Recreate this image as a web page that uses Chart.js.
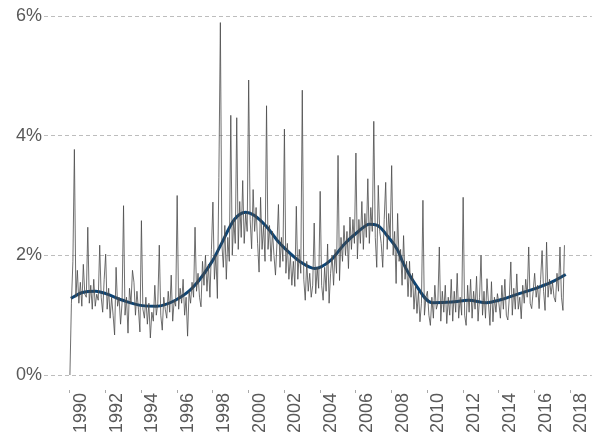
<!DOCTYPE html>
<html>
<head>
<meta charset="utf-8">
<script src="https://cdn.jsdelivr.net/npm/chart.js@4/dist/chart.umd.min.js"></script>
<style>
  body { margin: 0; background: #fff; }
</style>
</head>
<body>
<canvas id="rateChart" width="592" height="435"></canvas>
<script>
// monthly values, one row per year, starting Jan 1990 (last row stops in Sep 2017)
var startYear = 1990;
var monthlyRate = [
  0, 1.2, 1.9, 3.77, 1.3, 1.75, 1.2, 1.55, 1.15, 1.85, 1.35, 1.3,        // 1990
  2.47, 1.2, 1.5, 1.1, 1.6, 1.15, 1.35, 1.25, 2.17, 1.3, 1.05, 1.6,      // 1991
  2.02, 1.1, 1.45, 0.95, 1.3, 1.0, 0.67, 1.8, 1.15, 1.3, 0.85, 1.2,      // 1992
  2.83, 1.0, 1.3, 0.7, 1.45, 1.2, 1.75, 1.55, 1.0, 1.4, 1.1, 0.72,       // 1993
  2.58, 1.1, 0.95, 1.3, 0.85, 1.2, 0.62, 1.05, 0.9, 1.5, 1.0, 1.2,       // 1994
  2.17, 1.0, 0.75, 1.3, 1.1, 0.95, 1.4, 1.05, 1.67, 0.9, 1.25, 1.15,     // 1995
  3.0, 1.1, 1.45, 1.2, 1.6, 1.0, 1.3, 0.65, 1.4, 1.2, 1.55, 1.3,         // 1996
  2.47, 1.4, 1.7, 1.3, 1.14, 1.9, 1.5, 2.0, 1.4, 1.85, 1.3, 2.1,         // 1997
  2.89, 1.6, 2.0, 1.28, 3.3, 5.89, 2.2, 1.8, 2.5, 1.6, 2.3, 1.9,         // 1998
  4.34, 2.0, 2.6, 2.2, 4.3, 2.1, 2.9, 2.3, 3.25, 2.2, 2.7, 2.4,          // 1999
  4.93, 2.6, 2.11, 3.1, 2.4, 2.8, 2.2, 1.72, 2.97, 2.1, 2.5, 1.9,        // 2000
  4.5, 2.1, 2.5, 1.9, 2.4, 2.0, 1.67, 2.2, 2.85, 1.8, 2.3, 1.9,          // 2001
  4.11, 1.7, 2.2, 1.6, 2.0, 1.5, 1.9, 1.48, 2.82, 1.6, 2.1, 1.7,         // 2002
  4.76, 1.6, 1.25, 1.9, 1.4, 1.7, 1.3, 1.5, 2.54, 1.36, 1.8, 1.45,       // 2003
  3.07, 1.5, 1.25, 1.8, 1.4, 2.19, 1.2, 1.7, 2.0, 1.5, 2.1, 1.7,         // 2004
  3.67, 1.58, 2.3, 1.9, 2.5, 2.0, 2.4, 1.78, 2.64, 2.1, 2.6, 2.2,        // 2005
  3.71, 1.94, 2.6, 2.2, 2.9, 2.1, 2.7, 2.3, 3.28, 2.2, 2.8, 2.4,         // 2006
  4.24, 2.3, 1.8, 3.17, 2.4, 2.2, 1.8, 2.6, 3.22, 2.1, 2.7, 2.3,         // 2007
  3.5, 2.0, 2.4, 1.53, 2.7, 1.9, 2.1, 1.5, 2.33, 1.6, 1.9, 1.31,         // 2008
  1.9, 1.3, 1.7, 1.1, 1.5, 1.03, 1.4, 0.89, 1.2, 2.92, 1.0, 1.3,         // 2009
  1.4, 1.0, 0.83, 1.3, 0.95, 1.5, 1.1, 1.2, 2.14, 0.9, 1.4, 1.05,        // 2010
  1.5, 0.86, 1.3, 1.0, 1.6, 0.9, 1.4, 1.05, 1.7, 0.95, 1.3, 1.0,         // 2011
  2.97, 1.0, 0.83, 1.5, 1.05, 1.6, 0.95, 1.4, 1.1, 1.65, 0.9, 1.3,       // 2012
  2.0, 1.0, 1.4, 0.95, 1.61, 1.2, 0.83, 1.56, 0.89, 1.3, 1.05, 1.36,     // 2013
  1.2, 0.95, 1.5, 1.1, 1.6, 1.0, 0.92, 1.3, 1.89, 1.0, 1.45, 1.1,        // 2014
  1.69, 1.1, 1.3, 0.94, 1.5, 1.2, 1.6, 1.3, 2.14, 1.2, 1.11, 1.4,        // 2015
  1.7, 1.3, 1.5, 1.11, 1.6, 2.08, 1.4, 1.08, 2.22, 1.3, 1.6, 1.35,       // 2016
  1.55, 1.3, 1.22, 1.7, 1.4, 2.14, 1.3, 1.08, 2.17                        // 2017
];

// smoothed trend line
var trendYear = [1990.05, 1990.7, 1991.45, 1992.0, 1992.95, 1994.05, 1994.85, 1995.9, 1996.9, 1998.0,
  1998.4, 1999.2, 1999.83, 2000.3, 2001.03, 2001.6, 2002.15, 2002.9, 2003.7, 2004.6,
  2005.36, 2006.1, 2006.76, 2007.2, 2007.8, 2008.35, 2008.6, 2009.3, 2010.25, 2011.36,
  2012.3, 2013.3, 2014.0, 2015.13, 2016.25, 2017.0, 2017.74];
var trendRate = [1.28, 1.38, 1.40, 1.36, 1.25, 1.16, 1.15, 1.25, 1.47, 1.92,
  2.15, 2.6, 2.72, 2.67, 2.47, 2.25, 2.08, 1.89, 1.78, 1.92,
  2.19, 2.39, 2.52, 2.5, 2.31, 2.08, 1.9, 1.53, 1.21, 1.22,
  1.25, 1.21, 1.25, 1.36, 1.47, 1.56, 1.68];

var tickYears = [1990, 1992, 1994, 1996, 1998, 2000, 2002, 2004, 2006, 2008, 2010, 2012, 2014, 2016, 2018];
var tickRates = [0, 2, 4, 6];

var monthlyPoints = monthlyRate.map(function (v, i) {
  return { x: startYear + i / 12, y: v };
});
var trendPoints = trendYear.map(function (yr, i) {
  return { x: yr, y: trendRate[i] };
});

var tickFont = { family: "'Liberation Sans', Arial, sans-serif", size: 18 };
var tickColor = '#595959';

var ctx = document.getElementById("rateChart");
var rateChart = new Chart(ctx, {
  type: 'line',
  data: {
    datasets: [
      {
        data: monthlyPoints,
        borderColor: '#4a4a4a',
        borderWidth: 0.8,
        pointRadius: 0,
        tension: 0,
        fill: false
      },
      {
        data: trendPoints,
        borderColor: '#0d4474',
        borderWidth: 3,
        pointRadius: 0,
        cubicInterpolationMode: 'monotone',
        fill: false
      }
    ]
  },
  options: {
    responsive: false,
    animation: false,
    layout: { padding: { top: 16, right: 0, bottom: 0, left: 0 } },
    plugins: {
      legend: { display: false },
      tooltip: { enabled: false }
    },
    scales: {
      x: {
        type: 'linear',
        min: 1988.55,
        max: 2019.2,
        afterBuildTicks: function (scale) {
          scale.ticks = tickYears.map(function (v) { return { value: v }; });
        },
        afterFit: function (scale) { scale.height = 45; },
        ticks: {
          minRotation: 90,
          maxRotation: 90,
          labelOffset: 11,
          padding: 0,
          autoSkip: false,
          color: tickColor,
          font: tickFont,
          callback: function (v) { return String(v); }
        },
        grid: { drawOnChartArea: false, tickLength: 3, color: '#aaa' },
        border: { display: false }
      },
      y: {
        min: -0.25,
        max: 6,
        afterBuildTicks: function (scale) {
          scale.ticks = tickRates.map(function (v) { return { value: v }; });
        },
        afterFit: function (scale) { scale.width = 44; },
        ticks: {
          padding: 2,
          color: tickColor,
          font: tickFont,
          callback: function (v) { return v + '%'; }
        },
        grid: { drawTicks: false, color: '#bdbdbd', lineWidth: 1 },
        border: { display: false, dash: [4, 3] }
      }
    }
  }
});
</script>
</body>
</html>
